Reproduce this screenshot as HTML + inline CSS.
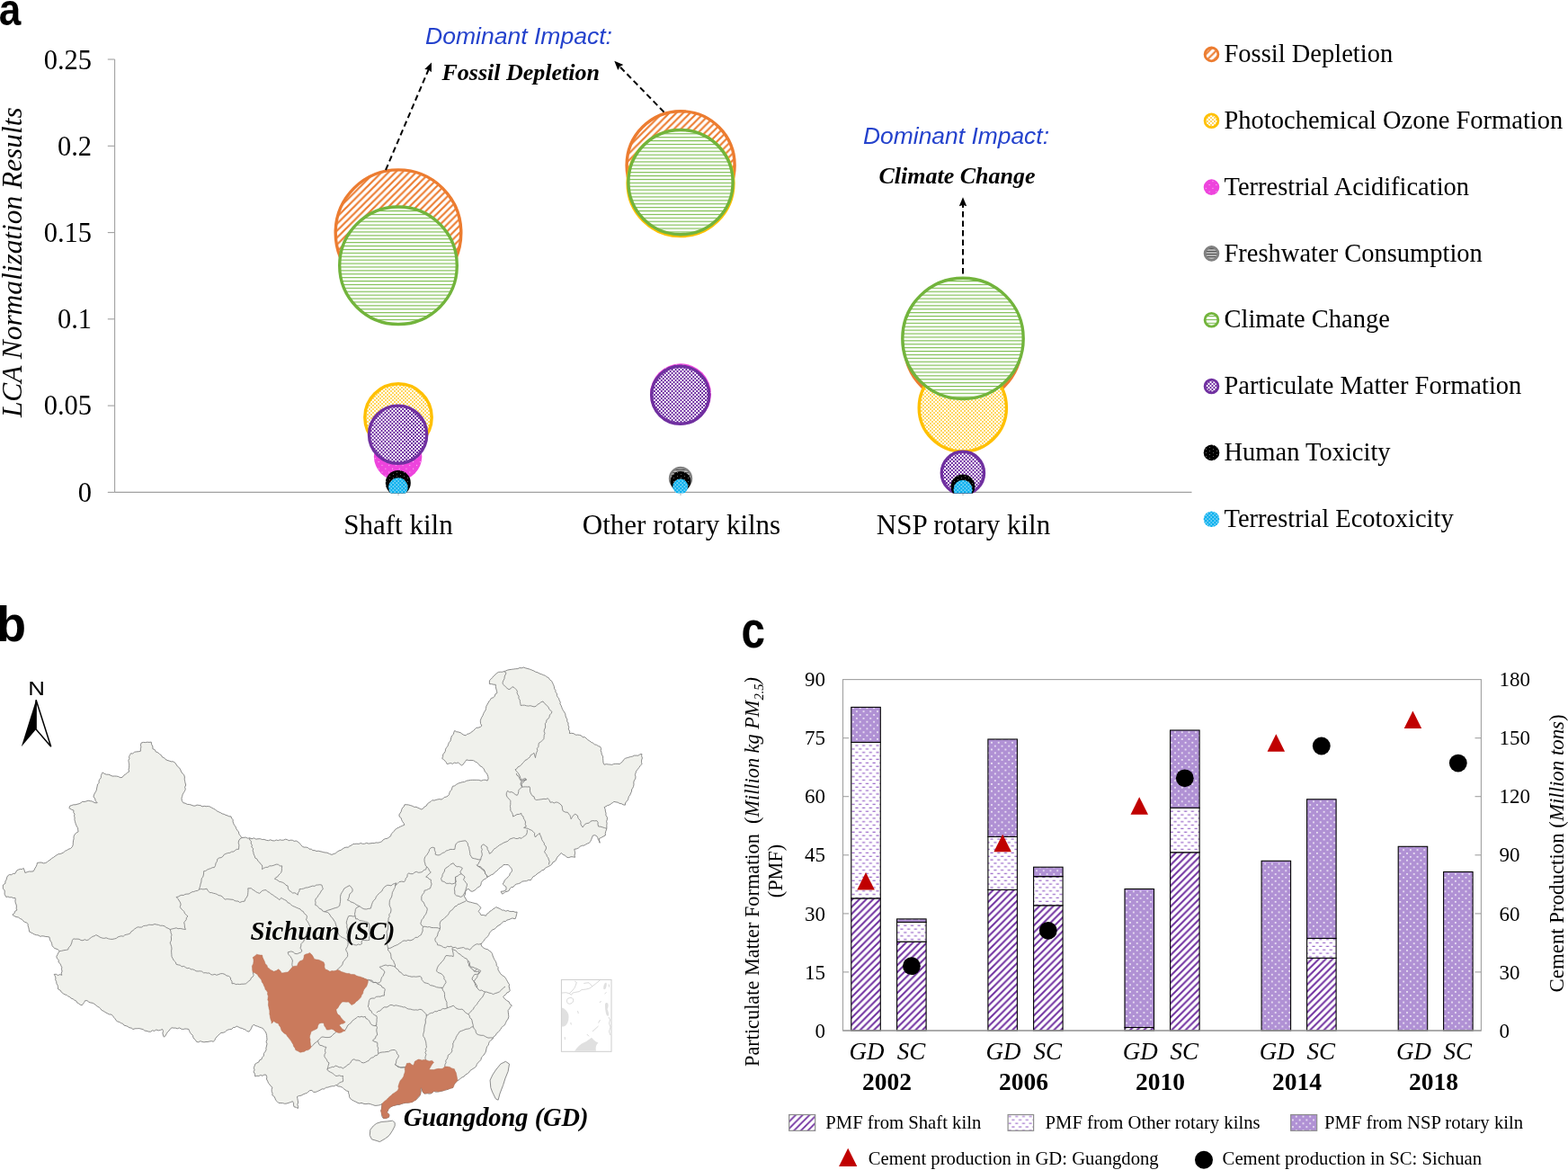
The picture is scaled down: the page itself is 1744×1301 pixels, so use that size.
<!DOCTYPE html>
<html><head><meta charset="utf-8"><title>Figure</title>
<style>html,body{margin:0;padding:0;background:#fff;} svg{display:block;}</style>
</head><body>
<svg width="1744" height="1301" viewBox="0 0 1744 1301">
<defs>
<clipPath id="clipA"><rect x="0" y="0" width="1744" height="548.5"/></clipPath>
<pattern id="pFD" patternUnits="userSpaceOnUse" width="7.7" height="7.7">
  <rect width="7.7" height="7.7" fill="#fff"/>
  <path d="M-1.925,1.925 L1.925,-1.925 M0,7.7 L7.7,0 M5.775,9.625 L9.625,5.775" stroke="#EC7C30" stroke-width="2.2"/>
</pattern>
<pattern id="pCC" patternUnits="userSpaceOnUse" width="8" height="3.9">
  <rect width="8" height="3.9" fill="#fff"/>
  <rect y="0" width="8" height="1.15" fill="#7CBD4E"/>
</pattern>
<pattern id="pPO" patternUnits="userSpaceOnUse" width="4" height="4">
  <rect width="4" height="4" fill="#fff"/>
  <rect x="0.2" y="0.2" width="1.6" height="1.6" fill="#FFC20E"/>
  <rect x="2.2" y="2.2" width="1.6" height="1.6" fill="#FFC20E"/>
</pattern>
<pattern id="pPM" patternUnits="userSpaceOnUse" width="3.94" height="4">
  <rect width="3.94" height="4" fill="#fff"/>
  <rect x="0" y="0" width="1.97" height="2" fill="#6E2CA0"/>
  <rect x="1.97" y="2" width="1.97" height="2" fill="#6E2CA0"/>
</pattern>
<pattern id="pTA" patternUnits="userSpaceOnUse" width="7.7" height="7.7">
  <rect width="7.7" height="7.7" fill="#EE44DD"/>
  <rect x="1" y="1" width="1" height="1" fill="#fbd0f6"/>
  <rect x="4.85" y="4.85" width="1" height="1" fill="#fbd0f6"/>
</pattern>
<pattern id="pHT" patternUnits="userSpaceOnUse" width="8" height="4">
  <rect width="8" height="4" fill="#000"/>
  <rect x="1" y="1" width="1" height="1" fill="#666"/>
  <rect x="5" y="3" width="1" height="1" fill="#666"/>
</pattern>
<pattern id="pTE" patternUnits="userSpaceOnUse" width="4" height="4">
  <rect width="4" height="4" fill="#0AB0EE"/>
  <rect x="0.4" y="0.6" width="1.9" height="0.9" fill="#e6f7fe"/>
  <rect x="2.4" y="2.6" width="1.9" height="0.9" fill="#e6f7fe"/>
</pattern>
<pattern id="pFW" patternUnits="userSpaceOnUse" width="4" height="3">
  <rect width="4" height="3" fill="#bbb"/>
  <rect y="0" width="4" height="1.2" fill="#555"/>
</pattern>

<pattern id="pSK" patternUnits="userSpaceOnUse" width="7.7" height="7.7">
  <rect width="7.7" height="7.7" fill="#fff"/>
  <path d="M-1.925,1.925 L1.925,-1.925 M0,7.7 L7.7,0 M5.775,9.625 L9.625,5.775" stroke="#7030A0" stroke-width="2"/>
</pattern>
<pattern id="pSKl" patternUnits="userSpaceOnUse" width="7.7" height="7.7" x="877.7" y="1239.5">
  <rect width="7.7" height="7.7" fill="#fff"/>
  <path d="M-1.925,1.925 L1.925,-1.925 M0,7.7 L7.7,0 M5.775,9.625 L9.625,5.775" stroke="#7030A0" stroke-width="1.8"/>
</pattern>
<pattern id="pOR" patternUnits="userSpaceOnUse" width="7.7" height="7.7">
  <rect width="7.7" height="7.7" fill="#fff"/>
  <rect x="0.4" y="0.7" width="3.1" height="1.1" fill="#8A50C0"/>
  <rect x="4.25" y="4.55" width="3.1" height="1.1" fill="#8A50C0"/>
</pattern>
<pattern id="pORl" patternUnits="userSpaceOnUse" width="7.7" height="7.7" x="1121.1" y="1239.5">
  <rect width="7.7" height="7.7" fill="#fff"/>
  <rect x="0.4" y="1.5" width="3.1" height="1" fill="#8A50C0"/>
  <rect x="4.25" y="5.35" width="3.1" height="1" fill="#8A50C0"/>
</pattern>
<pattern id="pNSP" patternUnits="userSpaceOnUse" width="7.7" height="7.7">
  <rect width="7.7" height="7.7" fill="#A886CC"/>
  <rect x="0" y="0" width="7.7" height="7.7" fill="#B697D8" opacity="0.6"/>
  <rect x="1" y="1.1" width="1.8" height="1.5" fill="#fff" opacity="0.9"/>
  <rect x="4.85" y="4.95" width="1.8" height="1.5" fill="#fff" opacity="0.9"/>
</pattern>
</defs>
<rect width="1744" height="1301" fill="#fff"/>
<g stroke="#A0A0A0" stroke-width="1.1" fill="none">
<line x1="127.6" y1="66" x2="127.6" y2="547.4"/>
<line x1="127.6" y1="547.4" x2="1325.5" y2="547.4"/>
<line x1="119.8" y1="66.0" x2="127.6" y2="66.0"/>
<line x1="119.8" y1="162.3" x2="127.6" y2="162.3"/>
<line x1="119.8" y1="258.6" x2="127.6" y2="258.6"/>
<line x1="119.8" y1="354.8" x2="127.6" y2="354.8"/>
<line x1="119.8" y1="451.1" x2="127.6" y2="451.1"/>
<line x1="119.8" y1="547.4" x2="127.6" y2="547.4"/>
<line x1="443" y1="547" x2="443" y2="551" stroke-width="0.8"/>
<line x1="757" y1="547" x2="757" y2="551" stroke-width="0.8"/>
<line x1="1071" y1="547" x2="1071" y2="551" stroke-width="0.8"/>
</g>
<g font-family="Liberation Serif, serif" font-size="30.5" text-anchor="end" fill="#000">
<text x="102" y="76.5">0.25</text>
<text x="102" y="172.7">0.2</text>
<text x="102" y="268.9">0.15</text>
<text x="102" y="365.1">0.1</text>
<text x="102" y="461.3">0.05</text>
<text x="102" y="557.5">0</text>
</g>
<text transform="translate(23.5,291.7) rotate(-90)" text-anchor="middle" font-family="Liberation Serif, serif" font-style="italic" font-size="31.4">LCA Normalization Results</text>
<g font-family="Liberation Serif, serif" font-size="31" text-anchor="middle">
<text x="443" y="593.5">Shaft kiln</text>
<text x="758" y="593.5">Other rotary kilns</text>
<text x="1071.5" y="593.5">NSP rotary kiln</text>
</g>
<g clip-path="url(#clipA)">
<circle cx="443" cy="258.7" r="69.80" fill="url(#pFD)" stroke="#EC7C30" stroke-width="3.4"/>
<circle cx="443" cy="464" r="37.20" fill="url(#pPO)" stroke="#FFC000" stroke-width="3.4"/>
<circle cx="442.6" cy="507.5" r="26.7" fill="url(#pTA)"/>
<circle cx="442.8" cy="535" r="9.8" fill="url(#pFW)" stroke="#808080" stroke-width="2.4"/>
<circle cx="443" cy="295.3" r="65.30" fill="url(#pCC)" stroke="#72B43C" stroke-width="3.4"/>
<circle cx="442.6" cy="483.2" r="32.10" fill="url(#pPM)" stroke="#7030A0" stroke-width="3.4"/>
<circle cx="442.8" cy="537" r="14" fill="url(#pHT)"/>
<circle cx="442.85" cy="542" r="10.75" fill="url(#pTE)"/>
<circle cx="757.1" cy="183.7" r="60.00" fill="url(#pFD)" stroke="#EC7C30" stroke-width="3.4"/>
<circle cx="757" cy="203.7" r="58.90" fill="url(#pPO)" stroke="#FFC000" stroke-width="3.4"/>
<circle cx="757" cy="438.3" r="34" fill="url(#pTA)"/>
<circle cx="757" cy="532" r="12.0" fill="url(#pFW)" stroke="#808080" stroke-width="2.4"/>
<circle cx="757" cy="202.6" r="58.10" fill="url(#pCC)" stroke="#72B43C" stroke-width="3.4"/>
<circle cx="756.7" cy="439.3" r="32.00" fill="url(#pPM)" stroke="#7030A0" stroke-width="3.4"/>
<circle cx="757" cy="535.3" r="11.3" fill="url(#pHT)"/>
<circle cx="756.7" cy="540.9" r="8.5" fill="url(#pTE)"/>
<circle cx="1071" cy="384" r="64.80" fill="url(#pFD)" stroke="#EC7C30" stroke-width="3.4"/>
<circle cx="1070.8" cy="453.4" r="48.60" fill="url(#pPO)" stroke="#FFC000" stroke-width="3.4"/>
<circle cx="1071" cy="523" r="22" fill="url(#pTA)"/>
<circle cx="1071" cy="538" r="8.8" fill="url(#pFW)" stroke="#808080" stroke-width="2.4"/>
<circle cx="1071" cy="376.4" r="67.20" fill="url(#pCC)" stroke="#72B43C" stroke-width="3.4"/>
<circle cx="1070.9" cy="525.9" r="23.60" fill="url(#pPM)" stroke="#7030A0" stroke-width="3.4"/>
<circle cx="1070.9" cy="541.1" r="13.5" fill="url(#pHT)"/>
<circle cx="1071" cy="544.2" r="10.4" fill="url(#pTE)"/>
</g>
<line x1="429" y1="189" x2="476.8" y2="77.0" stroke="#000" stroke-width="2" stroke-dasharray="6.5,4"/><polygon points="480.0,69.5 479.9,80.3 476.6,77.5 472.2,77.0" fill="#000"/>
<line x1="738.5" y1="124.6" x2="689.0" y2="73.7" stroke="#000" stroke-width="2" stroke-dasharray="6.5,4"/><polygon points="683.3,67.8 693.3,72.0 689.4,74.0 687.3,77.9" fill="#000"/>
<line x1="1071" y1="304.5" x2="1071.0" y2="227.4" stroke="#000" stroke-width="2" stroke-dasharray="6.5,4"/><polygon points="1071.0,219.2 1075.2,229.2 1071.0,227.9 1066.8,229.2" fill="#000"/>
<g font-family="Liberation Sans, sans-serif" font-style="italic" font-size="25" fill="#2442CC">
<text x="473" y="49" textLength="208" lengthAdjust="spacingAndGlyphs">Dominant Impact:</text>
<text x="960" y="160.3" textLength="207" lengthAdjust="spacingAndGlyphs">Dominant Impact:</text>
</g>
<g font-family="Liberation Serif, serif" font-style="italic" font-weight="bold" font-size="26">
<text x="491.5" y="88.7">Fossil Depletion</text>
<text x="977.5" y="203.8">Climate Change</text>
</g>
<g font-family="Liberation Serif, serif" font-size="28.5">
<circle cx="1347.5" cy="60.4" r="7.4" fill="url(#pFD)" stroke="#EC7C30" stroke-width="2.8"/>
<text x="1361.5" y="69.0">Fossil Depletion</text>
<circle cx="1347.5" cy="134.2" r="7.4" fill="url(#pPO)" stroke="#FFC000" stroke-width="2.8"/>
<text x="1361.5" y="142.8">Photochemical Ozone Formation</text>
<circle cx="1347.5" cy="208.1" r="8.8" fill="url(#pTA)"/>
<text x="1361.5" y="216.7">Terrestrial Acidification</text>
<circle cx="1347.5" cy="281.9" r="7.4" fill="url(#pFW)" stroke="#808080" stroke-width="2.8"/>
<text x="1361.5" y="290.5">Freshwater Consumption</text>
<circle cx="1347.5" cy="355.7" r="7.4" fill="url(#pCC)" stroke="#72B43C" stroke-width="2.8"/>
<text x="1361.5" y="364.3">Climate Change</text>
<circle cx="1347.5" cy="429.5" r="7.4" fill="url(#pPM)" stroke="#7030A0" stroke-width="2.8"/>
<text x="1361.5" y="438.1">Particulate Matter Formation</text>
<circle cx="1347.5" cy="503.4" r="8.8" fill="url(#pHT)"/>
<text x="1361.5" y="512.0">Human Toxicity</text>
<circle cx="1347.5" cy="577.2" r="8.8" fill="url(#pTE)"/>
<text x="1361.5" y="585.8">Terrestrial Ecotoxicity</text>
</g>
<text transform="translate(-1.3,27.9) scale(0.87,1)" font-family="Liberation Sans, sans-serif" font-weight="bold" font-size="50.7">a</text>
<g stroke="#858585" stroke-width="0.95" stroke-linejoin="round">
<polygon points="157.3,825.9 159.5,825.4 161.7,825.6 163.8,825.2 166.0,825.4 168.2,825.1 168.6,827.7 169.9,830.0 169.9,832.7 172.2,833.6 173.4,836.0 175.8,836.9 177.5,838.6 179.4,839.7 180.5,841.9 182.6,842.6 184.0,844.4 186.0,845.4 188.1,846.0 190.2,846.8 192.5,846.8 194.5,847.9 196.0,850.0 197.4,852.2 199.5,853.8 200.7,855.9 201.6,858.0 202.8,860.0 204.7,861.7 205.4,864.0 205.2,866.3 205.6,868.5 206.1,870.7 206.7,873.0 205.6,875.3 206.3,877.5 205.5,879.5 204.3,881.4 203.2,883.4 202.6,885.5 202.0,887.6 202.3,890.3 203.8,892.7 206.1,893.2 208.3,894.4 210.7,894.5 213.0,895.2 215.0,896.0 217.0,896.1 219.1,895.1 221.2,895.4 223.2,895.7 225.1,896.9 227.2,896.3 229.2,896.7 231.3,896.5 233.3,896.9 235.3,898.1 237.5,899.2 239.5,900.3 241.4,901.8 243.5,902.9 245.4,903.7 247.2,904.9 249.2,905.3 251.0,906.3 253.0,906.9 254.8,907.8 257.0,907.9 257.6,909.9 259.1,911.5 259.1,913.8 259.8,915.8 260.7,917.6 262.0,919.3 262.7,921.3 263.8,923.1 265.4,925.0 266.0,927.6 267.5,929.5 268.9,931.6 271.1,931.3 273.4,931.1 275.6,932.2 277.8,931.8 280.0,932.8 282.5,931.8 284.6,933.1 287.0,932.8 289.4,932.7 291.6,933.5 293.9,933.4 296.2,934.3 298.4,934.7 300.9,933.8 303.1,934.8 305.4,934.9 307.3,934.0 309.4,934.6 311.4,933.8 313.5,934.3 315.5,934.1 317.4,933.2 319.4,933.6 321.2,934.7 323.4,934.2 325.4,934.3 327.2,935.4 329.4,935.0 331.2,936.1 333.2,937.5 334.7,939.5 336.3,941.3 338.2,942.1 340.4,942.1 342.4,942.5 344.0,944.2 346.2,944.1 347.9,945.6 350.1,945.6 352.0,946.5 354.1,946.2 356.0,946.7 358.0,947.1 359.9,947.7 361.9,948.0 363.9,948.2 366.4,949.4 369.0,950.4 371.1,949.5 373.3,948.8 375.1,947.2 377.0,946.0 379.2,945.3 381.1,943.9 382.9,942.8 384.9,942.1 387.2,942.2 388.9,940.8 390.9,940.0 392.6,938.6 394.8,938.4 396.9,938.2 399.1,938.4 401.2,937.5 403.4,938.3 405.6,938.2 407.7,937.3 409.9,938.1 412.0,937.8 414.1,937.5 416.2,937.6 418.2,936.9 420.4,937.1 422.4,936.6 424.6,935.8 426.2,933.8 428.3,932.7 430.8,932.3 432.7,931.0 434.6,929.7 435.2,927.3 436.8,925.8 438.3,924.2 439.6,922.4 441.5,921.1 443.6,920.1 445.7,919.0 447.8,918.1 449.9,917.2 449.0,915.3 447.7,913.6 446.7,911.7 446.2,909.6 444.3,908.2 443.9,906.0 445.0,904.2 446.2,902.4 446.7,900.3 447.6,898.3 449.3,896.9 449.9,894.8 452.2,894.7 454.6,895.0 456.8,895.7 458.8,896.3 460.7,897.4 463.0,897.3 464.9,898.3 466.9,899.1 468.8,900.0 470.8,898.9 472.2,897.0 474.3,896.0 475.4,893.8 477.2,892.5 479.2,891.3 480.8,889.7 482.9,890.1 484.9,889.4 486.9,888.9 488.9,888.6 491.0,889.0 492.7,888.0 494.2,886.5 496.3,886.1 498.1,885.1 499.5,883.6 499.9,881.6 500.8,879.8 502.2,878.2 502.8,876.2 503.4,874.3 505.7,873.8 507.6,872.3 509.7,871.1 511.9,870.4 514.2,869.7 516.6,869.5 518.8,868.2 521.1,867.8 523.5,867.4 525.8,867.3 528.1,867.3 530.5,867.3 532.8,867.4 535.1,868.2 537.5,867.3 539.8,867.2 542.1,868.1 543.1,865.9 542.8,863.5 542.1,861.4 541.1,859.5 539.3,858.1 538.7,856.0 537.6,854.2 535.9,852.7 533.8,851.6 532.4,849.6 530.6,848.1 528.6,846.9 526.6,845.7 524.0,845.4 521.4,845.5 518.8,844.9 517.6,846.6 516.4,848.3 515.2,849.9 513.4,851.1 511.5,849.5 509.5,848.0 507.5,848.6 505.3,848.1 503.4,849.4 501.2,848.5 499.2,849.1 497.2,849.6 496.3,847.7 494.9,846.1 493.5,844.6 491.7,843.4 492.6,841.4 492.7,839.0 494.1,837.2 495.3,835.4 495.5,833.2 496.5,831.4 497.9,829.7 498.6,827.7 499.3,825.7 500.9,824.1 501.4,822.0 501.9,819.9 502.7,818.0 504.4,816.4 504.8,814.3 505.7,812.4 507.6,813.7 509.9,814.0 512.1,814.7 513.9,816.0 515.9,817.3 518.1,817.8 519.5,816.3 521.7,815.8 523.4,814.8 525.0,813.6 526.7,812.4 528.1,810.9 529.7,809.3 532.1,809.1 534.2,808.4 535.9,807.0 534.5,804.5 534.3,801.6 534.9,799.5 535.8,797.5 537.0,795.6 537.7,793.6 538.7,791.6 540.0,789.8 540.5,787.6 540.8,785.4 541.8,783.6 542.9,781.8 543.8,780.0 545.2,778.4 546.3,776.4 548.8,775.7 550.2,774.1 550.9,771.8 552.9,770.6 552.5,768.3 551.8,766.0 551.4,763.7 551.3,761.3 549.0,761.2 546.7,760.6 544.4,760.5 544.4,756.7 546.1,755.2 547.6,753.5 549.1,751.7 550.9,750.3 552.4,748.6 554.4,747.4 556.5,747.2 558.6,747.2 560.6,746.6 562.7,745.9 564.8,745.0 567.0,744.6 569.3,744.3 571.5,744.0 573.7,743.7 575.9,743.6 577.9,742.6 580.2,742.8 582.3,742.0 584.6,742.9 587.0,743.5 589.3,744.2 591.6,745.1 593.8,746.0 595.8,747.2 598.1,747.8 600.1,749.0 602.4,749.7 604.4,750.6 606.5,751.3 608.2,752.7 610.2,753.6 611.5,755.8 613.7,757.4 614.8,759.8 615.7,761.7 616.4,763.6 616.6,765.8 617.9,767.5 618.0,769.6 619.4,771.2 619.4,773.4 620.3,775.2 621.7,776.8 622.1,778.8 623.2,780.5 623.0,782.8 624.1,784.5 624.8,786.5 625.5,788.5 626.6,790.3 627.7,792.0 628.8,793.8 629.0,795.9 629.7,798.0 630.9,799.9 630.7,802.1 632.1,804.0 631.9,806.2 632.8,808.4 632.3,810.9 633.7,813.1 633.4,815.5 635.8,815.3 638.1,815.7 640.3,817.2 642.7,817.1 644.7,817.4 646.7,818.0 648.1,819.8 650.3,819.6 652.0,820.9 653.6,822.6 655.7,823.8 657.5,825.3 659.7,826.3 661.4,827.8 663.6,828.3 665.4,829.6 667.5,830.2 668.6,832.3 668.2,834.7 669.0,836.8 669.3,839.1 670.6,841.1 670.6,843.4 670.8,845.8 671.0,848.1 672.1,850.3 674.2,849.6 676.3,849.9 678.5,850.1 680.6,850.4 682.7,849.5 684.8,849.3 687.0,849.3 689.1,849.6 690.8,848.2 692.5,846.8 693.6,844.8 695.3,843.4 697.3,842.7 699.4,842.1 701.4,841.5 703.5,841.1 705.5,840.1 707.7,840.1 709.9,840.2 711.8,838.8 713.9,838.4 713.6,840.6 714.4,842.9 713.6,845.1 713.5,847.4 713.9,849.6 712.2,851.4 710.8,853.4 709.3,855.4 707.7,857.3 707.1,859.4 706.4,861.5 707.0,863.8 706.7,865.9 705.4,867.9 704.8,869.9 705.0,872.2 704.6,874.3 703.8,876.2 702.6,878.0 702.5,880.2 701.5,882.0 700.8,884.0 699.4,885.7 698.9,887.7 698.2,889.7 696.7,891.3 695.6,893.0 695.3,895.2 693.1,894.8 691.3,893.7 689.1,893.4 687.2,892.2 685.0,891.9 682.9,891.4 681.3,892.7 679.5,893.8 677.8,895.1 675.7,895.6 674.0,896.7 672.1,897.6 673.1,899.7 673.4,902.1 674.0,904.3 673.9,906.7 675.3,908.7 675.4,911.1 674.6,913.3 675.1,915.5 674.8,917.7 674.9,919.9 674.7,922.1 673.8,924.3 673.3,926.6 673.3,929.0 671.0,930.1 668.7,931.4 666.4,932.5 666.4,934.9 667.1,937.3 666.7,935.2 665.3,933.6 664.8,931.5 663.7,929.7 661.7,928.7 659.5,929.0 658.5,931.1 657.8,933.3 656.8,935.4 655.4,937.3 653.4,938.0 651.6,938.9 649.8,940.1 647.4,940.3 645.2,941.3 643.3,943.0 641.2,943.9 638.8,944.3 639.3,946.5 639.6,948.8 639.0,951.1 639.5,953.3 637.2,952.8 635.0,952.7 632.8,953.6 630.5,953.3 628.7,951.3 626.1,950.2 624.2,948.4 622.7,950.3 620.8,951.9 619.4,953.9 618.5,956.0 617.1,957.8 614.9,958.9 613.9,960.9 612.2,962.3 610.3,963.4 608.3,964.3 606.4,965.3 605.0,967.2 602.8,967.8 601.0,969.4 599.0,970.6 597.0,972.0 595.3,973.7 593.1,974.7 591.6,976.7 590.3,978.8 587.8,978.5 585.5,979.7 583.1,979.8 580.7,980.2 578.9,981.7 576.7,982.6 574.4,983.1 572.4,984.4 571.1,986.2 568.7,986.7 567.1,988.1 566.1,990.4 564.1,991.3 562.0,991.7 560.4,993.3 558.5,994.1 557.1,991.3 560.0,991.0 562.7,989.9 563.1,987.8 562.7,985.8 560.8,984.6 559.2,983.0 560.5,981.0 561.3,978.8 563.5,976.9 565.4,974.7 566.8,973.2 567.2,971.1 568.9,969.7 569.6,967.8 568.7,965.4 567.0,963.5 565.4,961.6 562.6,961.5 559.9,961.6 558.4,963.6 556.2,964.8 554.4,966.4 552.7,968.4 550.5,969.8 548.8,971.9 546.4,972.8 544.2,974.2 541.9,975.4 540.3,977.1 538.1,978.0 536.4,979.5 535.3,981.5 534.9,983.9 533.6,985.8 531.4,986.7 529.8,988.4 528.1,989.9 525.3,991.3 523.2,990.8 521.9,988.9 519.8,988.5 517.7,991.3 517.5,994.2 516.3,996.8 517.9,999.1 519.1,1001.7 521.1,1002.7 523.2,1003.2 525.3,1003.7 528.1,1004.5 530.9,1005.1 532.8,1007.3 535.0,1009.3 533.6,1011.4 532.2,1013.4 533.8,1015.4 535.0,1017.6 537.8,1017.5 540.5,1018.3 541.4,1016.3 543.5,1015.2 544.7,1013.4 546.6,1012.5 548.2,1011.0 550.1,1010.1 551.6,1008.6 554.0,1009.6 556.3,1010.6 558.5,1012.0 560.6,1012.2 562.6,1013.2 564.8,1012.4 566.8,1013.4 568.9,1013.6 571.0,1013.4 573.0,1014.3 575.1,1014.1 574.6,1016.7 574.0,1019.2 573.1,1021.7 569.6,1021.0 567.8,1021.9 565.9,1022.6 563.9,1023.1 562.3,1024.5 560.2,1024.6 558.5,1025.9 557.0,1027.7 555.0,1028.9 553.0,1030.0 551.6,1031.8 549.9,1033.2 547.6,1033.9 546.1,1035.6 544.5,1037.2 543.7,1039.5 542.3,1041.4 540.7,1043.0 538.9,1044.6 537.8,1046.6 536.0,1048.5 535.0,1050.8 536.4,1052.9 538.2,1054.3 540.2,1055.2 542.5,1055.8 544.2,1057.2 546.1,1058.4 547.5,1060.5 548.1,1062.9 549.1,1065.2 550.2,1067.4 551.4,1069.3 552.2,1071.5 552.3,1073.8 554.1,1075.6 553.9,1078.1 555.1,1080.0 555.4,1080.7 556.8,1082.8 558.5,1084.6 560.8,1085.8 562.4,1087.7 563.4,1089.5 564.4,1091.2 565.3,1093.0 566.5,1094.6 566.1,1097.0 566.7,1099.2 567.2,1101.5 565.9,1103.1 563.8,1103.9 562.7,1105.7 561.0,1106.9 559.6,1108.4 561.4,1110.7 563.7,1112.6 566.1,1113.9 567.2,1116.5 569.3,1118.1 567.7,1119.8 566.5,1121.8 565.1,1123.6 565.3,1125.9 565.6,1128.2 565.8,1130.5 565.1,1133.0 563.5,1135.1 562.4,1137.5 561.5,1139.6 559.6,1140.9 558.0,1142.5 556.8,1144.4 555.5,1146.2 554.0,1147.8 552.2,1149.2 551.3,1151.3 549.1,1152.7 548.0,1155.3 545.8,1156.8 544.4,1158.3 543.6,1160.2 543.2,1162.3 541.6,1163.7 541.1,1165.8 540.6,1168.0 540.1,1170.1 538.8,1172.0 537.4,1174.0 535.5,1175.8 534.9,1178.4 533.3,1180.3 531.5,1181.7 530.3,1183.6 529.6,1185.9 527.8,1187.3 524.9,1189.2 523.1,1190.3 521.9,1192.0 520.5,1193.6 517.9,1194.9 516.0,1197.1 514.1,1197.9 512.3,1199.0 510.9,1200.6 509.0,1201.5 506.9,1203.2 505.4,1205.5 504.0,1207.3 503.7,1209.5 500.9,1209.9 498.4,1211.2 496.4,1211.9 494.2,1212.1 492.2,1213.0 490.0,1213.5 487.8,1213.9 485.1,1214.2 482.5,1213.5 479.8,1215.7 477.6,1216.3 475.4,1215.7 471.9,1216.1 470.1,1213.9 469.2,1210.4 467.9,1209.5 468.3,1212.2 468.0,1214.8 467.4,1217.4 466.3,1219.5 464.5,1220.9 463.0,1222.7 460.7,1223.8 458.6,1225.4 456.2,1225.6 453.9,1226.1 451.5,1226.3 448.8,1226.7 446.2,1227.6 444.2,1228.3 442.1,1228.5 440.0,1228.9 437.2,1229.5 434.7,1230.7 432.1,1233.3 431.3,1235.2 430.3,1236.9 433.0,1239.5 432.5,1242.2 429.4,1243.5 426.3,1243.5 425.0,1241.7 424.6,1239.5 424.7,1237.2 423.7,1235.1 424.5,1233.0 424.6,1230.7 425.0,1227.2 423.3,1228.5 421.3,1229.0 419.2,1229.3 417.1,1229.4 414.7,1228.6 412.4,1227.8 410.0,1227.2 408.0,1227.5 406.0,1227.6 404.0,1227.2 402.0,1226.3 400.0,1227.0 398.0,1226.4 395.8,1225.2 393.5,1224.2 391.3,1222.9 389.4,1221.3 388.5,1219.5 388.4,1217.4 387.6,1215.6 387.6,1213.5 385.5,1213.0 383.9,1211.8 382.2,1210.6 380.7,1209.1 378.4,1208.2 375.9,1207.9 373.8,1206.5 371.7,1207.7 369.2,1207.8 366.9,1208.3 364.8,1209.1 362.5,1209.3 360.6,1210.9 358.2,1210.9 356.0,1212.2 353.7,1213.3 351.3,1214.3 348.8,1214.4 346.9,1212.5 344.4,1212.6 342.9,1214.1 341.3,1215.4 339.2,1216.1 337.0,1217.0 335.0,1218.2 332.6,1218.5 330.5,1219.5 330.9,1221.7 331.3,1223.8 331.6,1226.0 330.8,1228.2 331.6,1230.3 331.4,1232.5 329.4,1231.3 327.1,1230.8 326.5,1228.8 326.6,1226.6 325.4,1224.7 323.3,1225.6 321.2,1226.3 319.0,1227.0 316.7,1227.3 314.5,1226.6 312.1,1226.5 309.8,1226.4 308.3,1224.8 306.6,1223.3 305.9,1221.1 304.8,1219.1 302.9,1217.8 303.0,1215.6 302.2,1213.4 302.2,1211.3 302.9,1209.1 301.1,1207.7 299.9,1205.9 298.5,1204.3 297.7,1202.2 296.5,1200.0 296.8,1197.5 296.0,1195.3 293.9,1195.0 292.0,1196.3 289.8,1195.5 287.9,1196.5 285.8,1196.3 283.8,1197.0 283.5,1194.2 282.1,1191.8 283.1,1189.8 282.3,1187.4 283.1,1185.3 283.8,1183.2 285.6,1182.0 287.7,1181.1 288.7,1178.8 290.8,1178.0 291.6,1175.8 293.3,1174.1 293.4,1171.5 294.8,1169.6 296.0,1167.6 295.9,1165.3 296.5,1163.0 297.0,1160.7 296.1,1158.4 297.0,1156.1 296.8,1153.8 296.6,1151.4 296.1,1149.1 295.1,1146.9 293.7,1145.5 292.6,1143.7 290.7,1142.8 288.5,1142.1 286.4,1141.2 284.1,1140.5 282.1,1139.3 280.5,1141.0 279.6,1143.2 278.5,1145.3 277.0,1147.1 274.8,1146.7 273.2,1145.1 271.1,1144.4 269.2,1143.4 267.1,1143.0 265.2,1142.0 263.2,1141.1 261.5,1142.4 259.3,1142.6 257.8,1144.3 255.7,1144.6 253.6,1145.1 251.8,1146.0 250.2,1147.6 248.2,1148.3 246.0,1148.4 244.3,1149.7 242.8,1151.3 241.1,1152.8 239.8,1154.5 238.8,1156.6 237.4,1158.3 235.3,1157.7 233.2,1158.0 231.1,1158.5 229.0,1158.5 226.9,1158.9 224.8,1158.4 222.7,1157.7 220.6,1158.9 218.5,1158.3 217.5,1156.5 215.9,1155.1 214.8,1153.4 214.4,1151.3 212.8,1149.9 211.5,1148.3 210.6,1146.5 209.9,1144.5 207.8,1144.1 205.7,1144.0 203.5,1144.6 201.5,1144.1 199.5,1142.9 197.3,1143.8 195.2,1143.1 193.1,1143.1 191.0,1142.8 189.2,1144.3 188.0,1146.1 186.3,1147.7 185.2,1149.6 184.1,1151.7 182.3,1153.1 181.4,1151.0 180.9,1148.9 181.5,1146.6 180.6,1144.5 178.5,1145.4 176.3,1145.9 173.8,1145.0 171.8,1146.4 169.4,1145.8 167.4,1147.3 165.1,1147.1 163.0,1146.4 160.9,1146.1 159.1,1144.6 156.9,1144.1 154.8,1143.6 152.5,1143.7 150.2,1143.8 147.9,1144.5 146.2,1143.1 144.0,1142.8 142.2,1141.5 140.2,1140.7 138.1,1140.2 136.6,1138.3 134.6,1137.7 132.8,1136.5 130.7,1135.9 129.0,1134.6 128.0,1132.8 126.6,1131.3 125.5,1129.5 123.9,1128.2 121.4,1127.9 119.2,1126.7 117.0,1125.6 115.3,1124.3 113.2,1123.5 111.9,1121.7 110.3,1120.2 108.3,1119.2 106.8,1117.7 105.0,1116.5 103.2,1115.3 100.9,1115.0 98.8,1114.2 97.0,1112.7 94.6,1112.7 93.7,1114.5 92.4,1116.2 91.2,1117.8 89.2,1117.2 87.5,1115.9 85.8,1114.9 84.6,1112.9 82.7,1112.0 81.1,1110.8 79.1,1110.1 77.7,1108.5 75.7,1107.9 74.3,1106.5 72.2,1105.9 70.5,1104.9 68.4,1103.3 66.9,1101.0 64.5,1099.8 64.5,1097.6 64.0,1095.5 62.9,1093.7 62.7,1091.5 61.7,1089.6 61.9,1087.3 61.3,1085.3 60.2,1083.4 62.4,1083.3 64.4,1084.5 66.7,1083.6 68.8,1084.3 68.2,1082.2 69.1,1080.0 68.5,1077.8 68.8,1075.7 67.8,1073.7 67.0,1071.6 65.2,1070.0 65.1,1067.5 63.5,1065.8 62.8,1063.7 63.9,1061.6 64.9,1059.5 66.2,1057.6 64.7,1056.2 63.0,1055.2 60.9,1054.6 59.4,1053.3 58.1,1051.6 57.7,1049.7 57.1,1047.7 55.9,1046.0 55.3,1044.1 55.0,1042.1 53.0,1041.6 50.9,1041.5 48.9,1041.0 46.8,1040.8 44.7,1041.3 42.9,1040.0 40.6,1039.7 38.5,1039.1 36.6,1038.1 34.7,1037.0 32.7,1036.1 32.3,1033.9 31.9,1031.8 31.2,1029.7 31.0,1027.5 29.6,1025.9 27.4,1025.3 25.8,1023.9 24.4,1022.3 22.4,1021.5 20.4,1020.0 18.0,1019.6 15.8,1018.6 13.8,1017.2 15.8,1015.8 16.7,1013.3 18.9,1012.0 18.1,1010.1 18.4,1008.0 18.1,1006.0 17.3,1004.1 16.9,1002.1 17.2,1000.0 16.9,998.4 14.8,998.6 12.9,997.7 10.8,997.9 8.9,997.0 6.8,997.5 5.1,994.2 5.2,992.1 5.1,990.0 3.4,988.2 3.3,986.1 3.4,984.0 5.9,982.3 5.9,980.0 7.1,978.1 7.6,975.9 8.5,973.9 10.4,972.6 12.7,972.7 14.6,971.4 16.9,971.3 18.6,968.0 20.4,967.1 22.3,966.4 24.4,966.5 26.2,965.4 27.2,967.9 27.9,970.5 30.2,969.7 32.4,969.0 34.9,969.1 37.2,968.8 38.2,967.0 39.1,965.2 40.2,963.5 41.0,961.5 41.4,959.5 43.7,959.1 46.0,959.0 48.4,959.9 50.7,959.5 52.6,958.5 54.1,957.0 56.1,956.0 57.5,954.4 59.4,953.5 61.1,952.1 62.9,951.0 64.6,949.8 66.9,949.5 68.9,948.8 70.8,947.8 72.4,946.3 74.4,945.5 76.1,944.3 78.5,943.5 80.3,941.7 81.2,939.5 81.3,937.2 81.5,934.9 82.1,932.7 82.0,930.4 82.9,928.2 84.7,926.2 87.1,924.8 86.7,922.8 86.6,920.7 85.4,919.0 84.6,917.1 83.9,915.2 83.4,913.2 82.9,911.3 83.1,909.2 82.5,907.3 83.0,905.2 81.7,903.3 82.0,901.2 79.3,900.1 76.9,898.6 77.8,896.1 79.8,895.5 81.8,894.8 84.0,894.8 86.0,894.2 88.1,893.7 90.0,892.7 91.8,891.3 94.1,891.5 96.1,890.9 98.1,890.2 100.1,890.7 102.2,890.9 104.1,892.0 106.0,892.8 108.2,892.7 106.3,890.7 105.6,888.0 104.0,885.9 104.5,883.9 105.4,882.0 106.6,880.2 107.4,878.2 107.7,876.1 108.2,874.1 108.5,872.0 110.2,870.5 110.0,868.2 111.0,866.4 112.3,864.8 112.4,862.6 113.1,860.7 114.1,858.9 116.1,860.3 118.3,861.2 120.8,861.2 123.0,862.1 125.1,863.1 127.3,863.0 129.6,863.1 131.7,863.5 133.8,864.7 136.1,864.3 137.6,862.3 139.7,860.9 141.5,859.3 143.7,858.0 143.0,855.9 143.5,853.8 143.6,851.7 143.6,849.6 143.2,847.5 142.9,845.4 143.9,843.6 143.5,841.4 144.5,839.6 145.4,837.8 147.7,837.9 149.7,836.2 151.9,835.9 154.2,835.7 156.4,835.2 156.3,832.8 156.9,830.6 156.4,828.2" fill="#F0F1EC"/>
<polygon points="411.8,1256.3 415.3,1251.9 418.8,1249.2 424.1,1247.5 430.3,1247.0 436.5,1246.2 439.2,1248.4 439.2,1251.9 436.5,1257.2 433.0,1262.5 428.6,1266.0 422.4,1269.6 418.0,1268.2 413.5,1266.9 411.3,1262.5" fill="#F0F1EC"/>
<polygon points="562.4,1180.3 566.5,1183.1 565.1,1191.4 562.0,1199.0 559.6,1206.6 556.0,1216.0 554.1,1223.2 551.3,1221.8 547.5,1214.0 545.8,1209.4 545.1,1201.1 548.0,1195.0 551.3,1190.0 556.8,1183.1" fill="#F0F1EC"/>
</g>
<g stroke="#858585" stroke-width="0.9" fill="none" stroke-linejoin="round">
<polyline points="66.2,1057.6 68.6,1057.3 70.9,1056.7 73.3,1056.4 75.7,1055.9 76.3,1053.7 78.1,1052.1 79.1,1050.1 79.9,1048.0 80.3,1045.7 81.7,1043.9 83.8,1044.2 85.9,1044.1 88.0,1044.3 90.0,1045.5 92.0,1045.8 94.3,1044.7 96.3,1045.6 98.3,1045.0 99.8,1043.7 101.4,1042.5 103.1,1041.3 105.1,1040.8 106.7,1039.6 109.0,1040.7 111.1,1042.1 113.5,1043.0 115.8,1043.4 118.1,1042.8 120.4,1043.8 122.7,1044.3 125.0,1044.4 127.3,1043.9 129.3,1043.4 131.0,1042.0 132.9,1041.3 134.9,1040.8 137.2,1041.2 138.8,1039.7 140.8,1039.2 142.8,1038.7 144.9,1037.8 146.1,1035.7 148.0,1034.6 149.6,1033.1 151.4,1031.8 153.3,1030.8 155.5,1031.1 157.7,1031.0 159.5,1029.6 161.6,1029.3 163.7,1029.1 165.7,1028.2 167.9,1028.4 170.0,1028.4 172.0,1027.5 174.1,1028.1 176.3,1028.4 178.4,1029.3 180.6,1029.2 183.0,1029.8 184.9,1031.4 187.1,1032.3 189.2,1033.5"/>
<polyline points="189.2,1033.5 191.5,1032.9 193.8,1032.4 196.1,1031.8 198.1,1032.7 200.2,1032.4 202.3,1032.8 204.3,1033.3 206.4,1033.5 205.4,1031.0 205.3,1028.4 204.7,1025.8 205.9,1024.2 207.2,1022.6 207.4,1020.3 209.0,1018.9 207.3,1017.4 205.5,1015.8 204.7,1013.5 203.0,1011.8 201.3,1010.3 200.2,1008.4 201.1,1006.0 200.7,1003.9 199.6,1002.0 198.0,999.6 196.1,997.5 198.1,997.2 200.0,996.0 201.9,995.3 204.1,995.5 205.9,994.4 207.9,994.1 210.0,994.0 211.8,992.9 213.6,991.8 215.7,991.5 217.6,990.7 219.8,990.4 221.5,989.1 222.0,987.1 222.7,985.1 223.0,983.0 223.8,981.0 224.0,978.9 224.3,976.8 225.7,975.1 226.3,973.0 226.6,970.9 226.6,968.8 228.7,968.4 230.4,967.2 232.4,966.3 234.4,965.7 236.2,964.7 238.4,964.6 239.6,962.4 240.0,959.9 241.4,957.8 241.8,955.3 243.7,954.0 246.1,953.6 247.9,952.3 249.3,950.2 251.4,949.3 253.6,948.5 255.8,948.3 257.6,947.1 259.8,947.0 261.5,945.6 263.3,944.4 265.5,944.3 265.7,942.0 265.9,939.6 265.2,937.3 265.5,935.0 266.8,932.9 268.9,931.6"/>
<polyline points="189.2,1033.5 189.8,1035.5 190.2,1037.6 191.0,1039.6 190.3,1041.7 190.6,1044.0 190.3,1046.2 189.2,1048.2 190.0,1050.4 190.7,1052.7 191.0,1055.0 190.6,1057.2 190.7,1059.3 190.9,1061.5 191.0,1063.7 192.2,1065.9 193.4,1068.1 195.3,1069.9 196.1,1072.3 198.2,1072.9 200.4,1073.2 202.1,1074.9 204.5,1074.4 206.4,1075.7 208.2,1076.7 210.5,1076.4 212.2,1077.8 214.4,1077.9 216.3,1078.6 218.1,1079.8 220.2,1080.0 222.5,1079.8 224.6,1080.2 226.5,1081.8 228.8,1081.7 230.8,1082.1 232.9,1082.0 234.7,1083.7 236.7,1084.0 238.9,1083.3 240.8,1084.3 243.1,1083.6 245.3,1082.7 247.7,1082.6 250.0,1083.4 251.9,1084.9 254.4,1085.4 256.3,1086.9 256.6,1089.3 258.0,1091.3 258.0,1093.8 260.2,1093.5 262.3,1094.6 264.5,1094.3 266.6,1094.6 268.9,1094.2 271.2,1094.2 273.5,1093.8 275.2,1092.3 276.9,1090.8 278.7,1089.5 279.3,1087.4 281.2,1086.2 282.1,1084.3"/>
<polyline points="221.5,989.1 223.6,988.5 225.8,988.9 227.9,988.7 230.0,988.2 231.3,990.6 233.3,992.5 235.4,992.6 237.4,993.3 239.4,993.7 241.3,994.4 243.1,995.6 245.2,995.9 247.2,996.9 248.6,998.7 250.3,1000.1 252.5,999.7 254.8,999.9 257.0,1000.2 259.2,1000.3 260.9,1001.5 262.8,1002.0 265.0,1002.1 266.6,1003.5 269.3,1002.5 272.1,1002.1 273.1,999.3 274.9,997.0 275.6,994.8 275.8,992.4 276.0,990.1 275.8,987.8 279.5,987.8 281.1,989.3 283.0,990.3 284.7,991.7 286.6,992.6 288.7,993.4 291.5,990.6 293.7,989.8 296.1,989.7 297.7,991.5 299.8,992.4 301.4,994.1 303.5,995.2 305.3,996.6 307.3,997.9 309.2,999.2 310.9,1000.7 312.7,998.4 314.6,999.5 316.6,1000.6 318.6,1001.5 319.9,1003.6 322.0,1004.4 323.6,1005.9 325.3,1007.3 327.3,1008.1 329.3,1009.0 331.6,1010.0 334.0,1010.9 335.2,1012.6 337.3,1013.5 338.2,1015.5 339.9,1016.8 341.3,1018.3 341.3,1020.7 340.4,1022.9 342.1,1024.5 343.2,1026.6 344.1,1028.5 345.0,1030.3 344.3,1032.4 343.1,1034.2 341.9,1036.0 341.0,1038.0 340.3,1040.3 339.8,1042.6 338.5,1044.7 337.6,1046.9 334.9,1049.6 334.8,1052.0 334.0,1054.2 335.2,1055.9 335.8,1057.9 334.2,1059.2 332.2,1059.9 330.3,1060.7 327.9,1060.3 326.1,1058.6 323.8,1057.9 320.1,1058.9 321.0,1061.5 322.9,1063.5 324.3,1065.7 325.4,1068.0 325.1,1070.4 324.8,1072.7 325.4,1075.1"/>
<polyline points="282.1,1084.3 281.2,1081.1"/>
<polyline points="277.8,931.8 277.7,934.0 279.5,935.6 279.1,937.9 280.4,939.7 279.8,942.0 281.7,943.6 281.1,945.9 281.9,947.9 282.2,949.9 283.2,951.8 283.8,954.1 286.0,955.3 286.9,957.4 288.6,958.8 289.8,960.7 291.5,962.0 291.8,964.3 291.5,966.6 293.4,965.4 295.5,964.4 297.9,964.3 299.8,962.9 302.4,962.8 304.8,962.1 307.2,961.1 309.5,961.3 311.4,962.9 313.7,962.9 313.4,965.4 313.4,967.9 312.7,970.3 311.3,971.7 309.9,973.1 308.7,974.9 306.8,975.8 305.4,977.2 307.3,977.9 309.0,979.0 310.7,980.3 312.7,980.7 314.6,981.4 316.5,982.5 318.0,984.3 320.1,985.1 320.4,988.1 322.0,990.6 323.8,991.5 325.4,993.0 327.8,992.8 329.6,993.8 331.2,995.2 331.4,992.9 333.0,991.0 333.0,988.7 335.4,988.5 337.7,988.1 339.9,987.1 342.3,986.9 345.0,986.0 347.8,985.1 349.9,985.4 351.8,984.1 353.8,984.0 355.8,983.7 357.9,984.1 358.6,986.4 359.3,988.7 357.6,990.1 356.6,992.1 355.5,993.9 354.1,995.5 353.2,997.5 351.5,998.9 350.6,1001.3 351.1,1003.9 350.6,1006.3 352.5,1007.2 354.1,1008.6 355.4,1010.4 357.5,1011.0 358.7,1012.9 360.7,1013.7 362.5,1013.2"/>
<polyline points="362.5,1013.2 364.7,1012.2 367.0,1011.6 369.2,1010.8 371.2,1010.1 373.3,1009.5 375.4,1008.9 377.8,1007.1 378.0,1004.9 378.5,1002.8 378.7,1000.0 378.5,997.2 379.1,994.6 380.3,992.3 381.7,990.2 382.8,988.0 385.8,986.2 388.9,984.6 390.8,986.8 392.1,988.8 392.0,991.1 390.6,992.8 388.9,994.1 388.3,997.2 387.6,999.2 386.4,1000.9 388.5,1001.3 390.0,1002.9 392.0,1003.4 394.6,1004.7 396.9,1006.4 400.0,1007.7"/>
<polyline points="400.0,1007.7 398.1,1008.6 396.3,1009.5 395.3,1011.5 395.1,1013.8 394.5,1016.2 395.1,1018.7 392.6,1019.0 390.2,1018.3 387.7,1018.7 386.6,1021.1 385.8,1023.6 385.2,1026.1 386.0,1028.5 385.8,1031.0 386.5,1033.1 386.1,1035.2 385.7,1037.4 386.5,1039.4 386.2,1041.6 386.6,1043.7 386.4,1045.8 389.5,1047.7 391.7,1049.6 394.4,1050.7 396.5,1051.0 398.4,1050.0 400.5,1050.5 402.4,1049.5 402.1,1047.3 403.1,1045.2 405.7,1045.6 408.4,1045.7 411.0,1045.2 410.5,1043.0 411.3,1040.9 411.1,1038.8 411.6,1036.6 410.6,1034.5 411.0,1032.3 410.8,1029.5 410.4,1026.7 408.6,1025.4 406.4,1024.9 404.3,1024.3 402.1,1023.9 399.8,1023.6 398.0,1021.8 395.7,1021.8 395.1,1018.7"/>
<polyline points="360.7,1013.7 364.3,1014.4 366.2,1016.0 367.4,1018.1 368.5,1019.9 370.1,1021.2 371.1,1023.0 372.7,1025.3 373.5,1028.0 374.1,1030.0 374.8,1032.1 375.4,1034.1 376.0,1036.5 376.6,1039.0 379.1,1041.5 381.4,1042.7 383.7,1043.7 385.8,1045.2 387.1,1047.7 387.1,1050.2 386.4,1052.6 384.6,1055.6 385.3,1057.6 386.4,1059.3 386.7,1061.5 386.5,1063.7 385.1,1065.2 383.9,1066.8 382.6,1068.4 381.4,1070.0 381.0,1072.2 379.9,1073.9 378.4,1075.3 376.5,1076.8 375.0,1078.7"/>
<polyline points="400.0,1007.7 402.3,1009.5 404.9,1010.8 407.4,1011.0 409.8,1010.4 412.3,1010.1 412.9,1008.0 413.5,1005.8 414.3,1003.6 415.4,1001.5 417.5,999.7 418.4,997.2 419.7,995.5 421.2,993.8 422.8,992.4 424.6,991.1 425.9,988.5 427.7,986.2 430.7,984.3 432.9,984.4 435.0,984.9 436.7,983.4 438.7,982.5 440.7,981.9 440.0,984.6"/>
<polyline points="440.7,981.9 439.6,984.1 439.5,986.5 438.4,988.4 437.5,990.4 436.4,992.4 436.1,994.6 435.7,997.0 434.5,999.1 433.4,1001.3 433.2,1003.8 433.1,1006.2 433.9,1008.4 434.9,1010.6 434.9,1013.0 434.3,1015.1 432.8,1016.8 433.2,1019.3 432.0,1021.1 432.1,1023.1 431.1,1025.1 431.7,1027.2 431.5,1029.2 431.6,1031.6 431.2,1033.8 430.0,1036.0 430.3,1038.4 430.5,1040.7 430.4,1043.0 430.1,1045.3 430.3,1047.6 430.3,1050.0 431.1,1052.2 431.5,1054.5"/>
<polyline points="474.5,963.7 476.5,965.6 477.5,968.1 479.3,970.1 477.3,971.6 475.6,973.4 473.7,975.0 475.8,975.7 477.2,977.5 479.3,978.2 479.3,980.7 480.1,983.0 479.3,985.4 478.5,987.8 476.4,988.6 474.4,989.7 472.1,990.2 471.7,992.6 470.1,994.5 468.9,996.6 468.8,999.0 468.9,1001.4 471.0,1003.1 472.1,1005.5 472.8,1007.6 474.6,1009.0 475.3,1011.1 474.6,1013.7 473.8,1016.2 472.1,1018.3 470.7,1021.1 469.1,1022.7 468.5,1024.8 467.8,1026.9 468.9,1028.9 470.7,1030.3 470.0,1032.6 470.2,1035.1 469.2,1037.3 468.4,1039.5 466.3,1040.7 464.5,1042.3 461.9,1042.4 460.2,1044.3 458.0,1045.3 456.0,1045.9 453.9,1045.2 452.0,1046.3 449.9,1045.9 447.8,1046.4 446.3,1048.0 444.3,1049.0 442.6,1050.3 440.7,1051.1 438.4,1052.0 436.3,1053.2 434.0,1054.3 431.5,1054.5"/>
<polyline points="431.5,1054.5 431.7,1057.0 433.7,1058.9 434.7,1061.2 434.9,1063.7 435.4,1066.3 437.6,1068.2 438.4,1070.7 439.5,1072.9 439.5,1075.3 441.0,1077.1 442.9,1078.3 444.0,1080.5 446.2,1081.4 447.6,1083.3 449.4,1084.5 451.7,1084.2 453.6,1085.2 455.7,1085.6 458.0,1086.2 460.3,1085.9 462.6,1086.2 464.9,1085.9 467.2,1085.6 468.9,1087.0 469.1,1089.4 470.5,1090.9 471.8,1092.6 474.2,1093.2 476.6,1093.9 478.5,1095.6 481.0,1096.0 483.3,1096.7 485.5,1097.7 487.9,1098.1 490.3,1098.3 492.6,1098.3"/>
<polyline points="439.5,1075.3 437.6,1074.3 435.5,1073.8 433.4,1073.4 431.1,1074.0 429.2,1073.0 426.8,1073.6 424.6,1074.6 422.2,1075.3 423.6,1076.8 425.5,1077.8 426.9,1079.3 428.0,1081.0 426.9,1083.0 426.1,1085.1 424.6,1086.8 423.9,1088.8 423.6,1090.9 422.2,1092.6 419.9,1093.2 417.6,1092.3 415.3,1092.6 413.3,1091.5 411.5,1090.3 409.6,1089.1"/>
<polyline points="403.2,1087.2 405.1,1088.3 407.1,1089.4 409.3,1089.8 411.8,1089.8 414.1,1090.4 415.6,1092.5 418.2,1092.5 420.0,1094.2 422.2,1095.0 424.1,1095.9 425.0,1097.9 427.1,1098.5 428.3,1100.2 427.7,1102.5 427.4,1104.8 427.4,1107.1 425.1,1107.2 423.0,1108.2 420.6,1108.1 418.3,1108.4 416.4,1110.1 414.0,1110.0 411.8,1110.5 410.6,1112.5 410.2,1114.8 410.0,1117.0 409.3,1119.2 410.6,1120.8 410.9,1123.0 413.0,1124.1 413.6,1126.1 415.1,1127.6 416.8,1128.8 418.8,1129.6 419.3,1131.7 419.0,1133.8 419.1,1135.8 418.7,1137.9 418.8,1140.0"/>
<polyline points="418.8,1126.1 420.4,1124.7 422.6,1124.0 424.3,1122.6 425.7,1120.9 427.7,1119.8 430.0,1120.0 432.0,1119.0 433.8,1117.6 436.1,1117.5 438.1,1118.5 440.3,1117.8 442.3,1118.3 444.4,1118.8 446.4,1119.2 448.4,1119.9 450.6,1119.9 452.4,1121.2 454.3,1122.0 456.5,1122.1 458.5,1122.7 460.6,1123.1 462.7,1122.9 464.7,1123.2 466.8,1122.3 468.9,1122.7 470.8,1124.3 472.4,1126.1 474.1,1127.8"/>
<polyline points="473.8,1129.2 475.9,1128.7 477.6,1127.2 479.6,1126.4 481.8,1126.1 483.5,1124.6 485.9,1124.8 487.7,1123.6 490.2,1123.3 492.3,1121.6 495.0,1121.8 497.3,1120.9 499.6,1120.0 502.0,1119.2 504.3,1118.1 507.0,1120.9 509.2,1122.0 511.5,1122.4 513.9,1122.2 515.7,1123.5 517.1,1125.4 518.9,1126.7 520.9,1127.8"/>
<polyline points="497.3,1120.9 497.2,1118.8 496.9,1116.7 497.0,1114.6 496.0,1112.6 495.1,1110.4 494.5,1108.1 494.6,1105.6 494.1,1103.1 492.5,1101.1 491.8,1098.7 490.3,1098.3"/>
<polyline points="474.1,1127.8 474.4,1129.9 474.0,1131.9 473.1,1133.9 473.4,1136.0 473.2,1138.0 472.4,1140.0 472.1,1142.1 471.8,1144.1 471.8,1146.2 471.2,1148.3 470.7,1150.3 470.8,1152.4 472.3,1154.2 472.8,1156.2 473.6,1158.2 473.9,1160.3 474.1,1162.4 474.5,1164.5 473.2,1166.4 474.0,1168.5 472.9,1170.4 474.0,1172.5 473.3,1174.5 472.9,1176.6 473.6,1178.6"/>
<polyline points="420.7,1171.6 420.6,1169.5 420.2,1167.5 420.7,1165.4 419.7,1163.4 419.9,1161.3 419.7,1159.2 417.0,1158.4 414.5,1157.2 415.7,1155.6 417.6,1154.5 418.0,1152.2 419.7,1151.0 419.4,1148.9 418.9,1146.9 418.8,1144.8 419.5,1142.6 418.6,1140.6 416.5,1140.6"/>
<polyline points="383.5,1145.8 384.8,1144.0 385.9,1142.0 386.9,1140.0 388.7,1138.6 390.4,1137.4 391.5,1135.5 393.1,1134.2 394.8,1133.0 396.6,1131.8 398.0,1130.3 400.1,1131.0 402.1,1130.2 404.1,1131.0 406.2,1130.3 406.9,1132.4 409.0,1133.4 410.4,1134.9 411.5,1136.7 412.4,1138.6 414.2,1140.0 416.5,1140.6 418.8,1140.0"/>
<polyline points="420.7,1171.6 422.9,1170.4 425.2,1170.0 427.6,1169.9 430.0,1169.5 432.4,1169.3 434.5,1168.0 436.9,1167.5 439.3,1167.5 441.0,1169.4 441.7,1171.8 443.4,1173.7 443.0,1175.9 441.4,1177.7 440.7,1179.8 440.6,1182.1 439.3,1184.0 441.3,1185.1 443.5,1186.0 445.5,1187.1 448.0,1186.7 450.6,1186.5"/>
<polyline points="363.9,1189.2 365.5,1187.8 367.5,1187.2 369.4,1186.4 371.6,1186.4 373.2,1185.0 375.3,1185.8 377.2,1186.8 379.6,1186.8 381.5,1188.1 383.1,1186.8 384.9,1185.9 386.2,1184.3 388.1,1183.4 389.6,1182.1 390.7,1180.2 391.9,1178.5 393.9,1177.8 395.8,1179.0 398.2,1179.0 400.3,1179.6 402.0,1181.4 404.2,1181.9 406.3,1181.3 408.2,1180.2 410.2,1179.4 411.5,1177.4 413.3,1176.2 415.5,1175.7 416.9,1173.9 419.4,1173.5 420.7,1171.6"/>
<polyline points="346.1,1164.2 348.1,1162.2 350.0,1160.0 351.9,1158.7 353.6,1157.2 354.2,1159.9 355.7,1162.3 358.2,1162.7 360.4,1163.9 362.9,1164.4 361.9,1166.4 361.5,1168.4 362.1,1170.7 361.0,1172.6 360.8,1174.7 362.0,1176.6 363.4,1178.3 364.2,1180.5 366.0,1181.9 365.3,1184.3 364.7,1186.8 363.9,1189.2 365.4,1191.1 367.5,1192.2 369.7,1193.3 371.5,1194.7 373.2,1196.4 375.3,1196.4 377.4,1195.8 379.4,1196.6 381.5,1196.4 381.2,1198.5 381.6,1200.5 381.5,1202.6 379.4,1203.2 377.6,1204.1 376.0,1205.6 374.2,1206.7"/>
<polyline points="353.6,1157.2 355.7,1155.1 357.7,1153.0 359.8,1153.1 361.8,1153.5 363.9,1153.6 365.9,1153.5 368.0,1153.0 370.0,1150.8 372.2,1148.9 374.0,1147.5"/>
<polyline points="439.2,1183.0 441.1,1184.9 443.0,1186.7 444.7,1186.7 447.0,1187.1 449.3,1187.0 451.6,1186.7"/>
<polyline points="494.8,1186.1 494.9,1183.8 496.1,1181.7 495.7,1179.4 497.2,1177.6 498.0,1175.6 498.4,1173.3 500.2,1172.1 501.7,1170.7 502.8,1168.8 502.6,1166.5 503.7,1164.4 503.9,1162.2 503.7,1160.0 504.3,1159.6 505.0,1157.4 506.6,1155.6 507.3,1153.3 508.4,1151.3 509.9,1149.2 511.2,1147.1 513.5,1146.3 515.8,1145.4 518.1,1144.4 520.3,1144.1 522.5,1143.6 524.3,1142.1 526.4,1141.6"/>
<polyline points="526.4,1141.6 527.2,1143.8 529.0,1145.5 529.3,1147.9 530.5,1149.9 532.7,1150.8 535.1,1151.3 537.5,1151.3 539.3,1152.3 541.1,1153.3 543.0,1154.1 545.8,1153.9 548.5,1154.1"/>
<polyline points="526.4,1141.6 526.1,1139.3 525.4,1137.0 525.0,1134.7 524.2,1132.8 522.4,1131.6 522.2,1129.4 520.9,1127.8 522.8,1125.6 525.0,1123.6 526.5,1122.0 527.4,1119.9 529.0,1118.3 530.5,1116.7 531.6,1114.5 533.3,1112.6 534.5,1110.6 536.4,1109.1 537.5,1107.0 538.5,1104.9 539.5,1102.9"/>
<polyline points="539.5,1102.9 541.9,1103.2 544.0,1104.1 546.4,1104.5 548.5,1105.6 550.7,1104.6 553.1,1103.9 555.4,1102.9 557.6,1100.9 559.6,1098.7 562.0,1097.0"/>
<polyline points="539.5,1102.9 537.6,1102.3 535.9,1101.0 533.6,1101.4 531.9,1100.1 530.6,1098.2 530.4,1095.7 529.0,1093.8 527.8,1091.8 525.0,1089.0 525.5,1086.9 526.7,1085.2 527.8,1083.5 530.7,1083.3 533.3,1082.1 534.7,1079.4 532.6,1078.4 530.5,1077.3 529.2,1079.1 527.1,1079.9 530.0,1080.5 532.9,1079.9 532.6,1082.4 531.2,1084.4 530.6,1086.8 528.7,1089.0 527.1,1091.4 528.3,1093.7 528.9,1096.3 530.6,1098.3"/>
<polyline points="502.9,1054.5 503.4,1056.8 503.9,1059.1 504.3,1061.3 504.1,1063.7 502.2,1062.9 500.1,1063.0 498.1,1062.6 496.0,1062.6 494.8,1064.5 493.9,1066.5 492.6,1068.4 490.9,1069.9 489.6,1071.8 487.9,1073.3 486.8,1075.3 486.0,1077.5 485.6,1079.9 487.1,1081.4 489.1,1082.1 491.1,1082.9 492.6,1084.5 493.9,1086.3 494.0,1088.7 495.6,1090.4 496.0,1092.6 494.7,1094.4 493.6,1096.3 492.6,1098.3"/>
<polyline points="502.9,1054.5 504.5,1056.1 506.8,1056.9 508.4,1058.6 509.9,1060.3 511.9,1061.1 513.4,1062.9 515.3,1064.0 517.0,1065.4 519.1,1066.1 520.2,1067.9 520.4,1070.1 521.5,1071.9 521.4,1074.1 523.1,1075.3 524.2,1077.0 526.1,1078.0 527.1,1079.9"/>
<polyline points="520.9,1068.3 522.4,1070.4 522.4,1073.0 523.6,1075.2 526.0,1075.4 528.2,1076.5 530.5,1077.3"/>
<polyline points="518.4,1001.7 516.2,1002.9 513.8,1003.9 511.5,1005.1 509.4,1005.6 508.0,1007.4 506.0,1007.9 504.4,1010.0 502.7,1012.0 500.4,1013.4 499.4,1015.5 498.2,1017.3 496.7,1018.9 494.9,1020.3 493.1,1022.2 490.7,1023.6 489.4,1025.9 489.1,1028.2 489.6,1030.5 489.4,1032.8 488.6,1034.9 487.3,1036.8 486.8,1039.1 486.2,1041.3 484.3,1042.9 483.8,1045.2 484.6,1047.1 486.2,1048.7 486.6,1050.8 489.1,1051.1 491.4,1052.1 493.5,1053.5 495.7,1053.8 497.6,1052.3 499.8,1052.7 501.8,1052.2 503.9,1053.7 506.6,1053.4 508.7,1054.9 511.0,1054.3 513.3,1053.9 515.6,1053.5 517.7,1055.0 520.4,1055.0 522.6,1056.3 524.2,1054.2 526.0,1052.4 528.1,1050.8 530.3,1049.7 532.7,1050.1 535.0,1049.4"/>
<polyline points="470.7,1030.3 473.1,1030.3 475.4,1030.9 477.7,1030.6 480.0,1031.5 482.4,1031.6 484.8,1031.6 487.1,1031.8 489.4,1032.8"/>
<polyline points="490.6,976.6 491.9,974.9 492.1,972.7 493.1,970.8 494.3,969.0 494.6,966.9 495.9,965.2 497.8,964.1 499.5,962.8 501.0,961.3 504.2,959.7 505.8,962.1 508.2,963.7 510.4,963.6 512.4,964.2 514.3,965.3 513.3,967.4 511.8,969.3 513.0,971.7 510.8,972.6 509.0,974.2 506.6,975.0 506.5,977.9 507.4,980.6 505.2,982.3 502.6,983.0 500.5,982.2 498.3,982.4 496.2,982.2 494.1,980.4 491.4,979.8 490.6,976.6"/>
<polyline points="513.0,971.7 515.2,973.2 517.1,975.0 515.5,978.2 516.9,979.7 518.2,981.4 519.5,983.0 519.2,985.4 518.4,987.8 517.9,990.2 516.8,992.7 515.5,995.0 514.2,996.7 512.2,997.4 510.0,996.4 507.6,995.9 505.8,994.2 505.8,991.0 505.4,988.6 505.9,986.2 507.0,983.9 506.6,981.4 506.6,979.3 506.7,977.1 506.6,975.0"/>
<polyline points="440.0,984.6 442.0,982.6 444.0,980.6 446.8,980.1 449.6,980.6 450.8,978.8 451.3,976.6 453.0,975.1 453.1,972.6 454.4,970.9 456.8,971.7 459.3,971.7 461.1,970.1 463.3,969.3 465.2,970.3 467.3,970.1 469.7,969.5 471.3,967.5 473.7,966.9 474.5,963.7"/>
<polyline points="474.5,963.7 473.1,962.1 472.8,960.0 472.1,958.1 472.0,955.2 472.9,952.5 474.8,950.7 476.1,948.5 477.2,946.6 477.7,944.4 479.3,942.8 481.3,942.2 483.3,942.8 483.3,945.3 484.4,947.6 484.2,950.1 486.1,950.8 488.2,950.9 490.3,949.9 492.2,948.5 494.5,947.7 496.2,946.1 498.6,945.4 501.0,944.4 503.4,944.5 505.8,944.4 506.2,942.2 506.5,940.0 507.4,938.0 509.6,936.3 512.2,935.6 515.0,935.1 517.9,934.8 519.2,936.3 520.3,938.0 520.5,940.2 521.7,942.2 521.9,944.4 522.4,946.4 522.7,948.5 522.9,950.6 524.1,952.3 525.1,954.1 527.5,954.7 529.9,955.2 532.2,955.9 534.7,955.7"/>
<polyline points="534.7,955.7 533.4,957.8 532.3,960.1 530.7,962.1 532.4,963.8 534.7,965.0 536.3,966.9 537.9,968.1 539.5,969.3 539.7,971.7 541.7,973.4 542.0,975.8"/>
<polyline points="534.7,955.7 535.2,953.2 536.3,950.9 536.1,948.8 535.5,946.7 536.3,944.6 535.3,942.5 535.5,940.4 537.9,938.8 539.9,940.5 542.0,942.0 542.2,944.6 543.7,946.8 544.4,949.3 546.5,948.1 547.8,946.3 549.2,944.4 551.4,942.9 553.6,941.3 555.6,939.6 557.8,938.6 559.8,937.3 562.0,936.4 564.8,935.4 566.8,933.2 569.2,932.3 571.7,931.6 573.7,932.5 575.8,932.5 578.0,931.5 580.0,932.4 581.6,930.8 583.6,929.6 585.4,928.3 586.3,925.6 586.3,922.7"/>
<polyline points="530.0,961.5 531.7,963.4 534.5,963.7 536.1,965.9 538.3,967.0 539.2,969.1 539.6,971.4 541.2,973.2 542.0,975.3"/>
<polyline points="560.6,746.6 563.0,748.2 562.2,750.2 561.2,752.1 561.1,754.4 560.1,756.3 559.2,758.3 559.1,760.5 560.8,762.1 562.4,763.8 564.1,765.4 566.1,766.7 568.3,765.5 569.9,763.6 572.1,764.7 573.8,766.4 575.3,768.3 575.1,770.5 575.9,772.4 577.1,774.3 576.9,776.5 578.2,778.3 578.4,780.4 578.8,782.5 579.2,784.5 581.3,784.2 583.5,784.2 585.6,784.8 587.7,785.1 589.8,784.7 591.9,785.3 594.0,785.9 596.2,785.3 597.8,783.4 599.9,782.3 601.7,780.8 604.0,779.9 605.2,781.7 606.9,783.1 608.3,784.8 610.0,786.3 610.8,788.4 612.3,790.1 614.0,791.5 613.0,793.4 611.4,795.0 611.0,797.3 609.8,799.2 607.9,800.6 607.7,803.0 606.3,804.7 606.6,806.9 606.6,809.0 605.5,811.1 605.1,813.2 606.0,815.4 605.2,817.5 605.1,819.6 604.8,821.7 603.1,823.4 601.4,825.1 599.3,826.3 599.0,828.4 598.8,830.5 597.3,832.3 597.8,834.5 596.9,836.5 596.3,838.5 595.8,840.5 595.5,842.6 594.7,839.9 593.9,837.2 592.3,838.6 590.3,839.6 589.4,841.8 587.7,843.2 586.0,844.6 584.0,845.5 582.7,847.3 581.1,848.8 579.8,850.5 578.2,851.9 576.1,852.8 574.9,854.7 573.0,855.8 574.6,857.8 576.4,859.7 577.7,862.0 578.5,864.0 579.1,866.0 579.2,868.1 581.4,868.2 583.4,867.3 585.4,866.6 583.6,868.1 582.0,870.0 580.0,871.2 580.8,875.1"/>
<polyline points="574.3,860.0 575.0,862.2 577.0,863.4 577.7,865.6 578.9,867.4 581.6,866.4 584.4,865.5 585.4,867.4 582.4,867.7 579.8,869.2 578.9,872.0 580.7,875.2 582.8,874.9 584.8,874.9 586.9,875.0 589.0,874.8 589.6,876.8 589.4,879.1 589.9,881.1 590.9,883.1 592.0,884.9 594.1,885.9 594.5,888.3 596.4,889.5 598.6,889.3 600.7,889.0 602.9,888.7 605.0,888.3 607.2,888.6 609.3,887.7 611.0,889.8 612.1,892.3 614.2,891.8 616.2,893.0 618.3,892.0 620.4,892.3 622.9,893.9 625.0,896.0 625.5,898.7 625.9,901.5 628.5,903.0 631.5,903.4 632.6,905.1 634.0,906.7 634.6,908.7 635.2,910.7 636.4,908.6 637.8,906.6 639.8,905.2 642.5,907.0 642.8,909.1 643.8,910.8 645.4,912.4 646.0,914.3 645.9,916.6 647.0,918.3 648.1,920.0 649.4,918.1 650.8,916.3 652.9,915.5 655.3,915.1 657.0,913.2 659.2,912.6 661.5,912.8 663.8,912.6 665.1,914.5 665.0,916.9 665.6,919.0 668.0,919.2 670.3,919.9 672.5,920.6 674.8,921.3"/>
<polyline points="563.2,884.0 563.4,881.5 564.6,879.4 566.7,880.9 569.4,880.7 571.5,882.1 573.2,883.5 575.2,884.4 576.3,882.6 576.7,880.6 577.0,878.5 578.7,876.6 580.7,875.2"/>
<polyline points="563.2,884.0 564.2,886.5 566.2,888.3 567.8,890.4 567.8,892.5 567.8,894.5 567.4,896.6 567.8,898.7 567.8,901.2 569.3,903.3 570.3,905.6 570.6,908.0 572.8,906.9 575.0,905.6 577.6,905.4 579.8,904.3 580.1,906.5 582.0,907.8 582.3,910.0 583.5,911.7 584.5,914.0 584.2,916.7 585.4,919.0 582.6,920.4 584.9,920.9 587.2,921.3 589.1,922.4 591.3,923.3 593.0,924.7 594.6,926.4 594.5,928.8 595.5,931.0 596.7,929.2 598.7,928.0 600.1,926.4 600.9,928.7 602.0,931.0 602.6,933.4 603.8,935.6 605.2,937.2 605.4,939.4 607.1,940.9 607.5,943.0 606.9,945.0 605.6,946.7 606.3,948.7 607.9,950.2 608.4,952.3 609.8,953.9 610.3,956.0 611.2,957.8 610.3,961.5"/>
</g>
<g fill="#CA7A5C" stroke="#b06d52" stroke-width="0.5">
<polygon points="281.2,1064.7 283.5,1063.0 285.6,1061.2 287.6,1061.7 289.6,1062.1 291.6,1062.1 292.1,1064.5 293.1,1066.8 294.2,1069.0 295.0,1071.5 296.9,1073.4 297.7,1075.9 299.4,1077.0 300.9,1078.4 302.8,1079.3 304.6,1080.3 307.4,1079.3 309.8,1077.7 311.8,1079.6 313.2,1082.0 315.5,1081.7 317.8,1081.2 320.2,1081.1 322.0,1079.1 323.7,1077.1 325.4,1075.1 327.9,1074.2 330.5,1074.2 331.2,1072.0 332.3,1069.9 333.9,1068.6 336.0,1067.9 337.5,1066.4 338.1,1064.3 338.3,1062.1 340.2,1061.0 342.5,1060.6 344.4,1059.5 346.3,1061.0 347.8,1063.0 349.6,1066.4 351.9,1067.1 354.3,1067.3 356.5,1068.2 360.0,1069.9 361.0,1072.4 360.8,1075.2 361.7,1077.7 364.4,1078.8 366.9,1080.3 369.0,1079.6 371.3,1079.8 373.4,1079.3 375.5,1078.5 377.7,1079.2 379.7,1080.6 382.0,1081.2 384.2,1082.0 386.2,1082.5 388.4,1082.4 390.3,1083.4 392.4,1083.5 394.5,1083.7 396.5,1085.0 398.7,1085.8 401.1,1086.2 403.2,1087.2 405.3,1088.0 407.4,1088.7 409.3,1089.8 409.2,1092.5 408.4,1095.0 407.6,1097.0 406.2,1098.6 404.9,1100.2 404.0,1102.3 403.6,1104.7 402.2,1106.6 401.5,1108.8 399.9,1110.6 398.1,1112.4 396.0,1113.8 394.5,1115.7 391.1,1117.5 389.3,1115.8 387.6,1114.0 385.3,1114.2 383.0,1114.0 380.7,1114.0 378.8,1116.0 377.2,1118.3 375.8,1120.7 373.8,1122.7 374.7,1126.1 375.8,1128.1 377.9,1129.3 379.0,1131.3 380.6,1133.2 382.2,1135.0 384.2,1136.5 382.1,1138.1 379.4,1138.6 377.2,1140.0 379.0,1142.1 380.7,1144.3 384.2,1146.0 381.8,1146.8 379.7,1148.1 377.2,1148.6 374.9,1147.9 372.8,1146.7 370.9,1145.0 368.6,1144.3 366.0,1145.0 363.4,1145.1 362.3,1142.8 360.8,1140.8 360.0,1137.4 357.3,1137.4 354.8,1138.2 353.5,1140.7 353.0,1143.4 350.8,1144.7 348.5,1145.8 346.1,1146.9 345.5,1149.2 344.7,1151.4 344.4,1153.8 345.1,1155.8 344.9,1158.0 345.2,1160.1 345.4,1162.2 346.1,1164.2 344.7,1166.2 342.7,1167.6 340.4,1167.9 338.5,1169.3 336.2,1169.7 334.0,1170.2 331.4,1168.8 328.8,1167.6 328.1,1165.4 326.6,1163.5 326.0,1161.2 324.7,1159.3 323.6,1157.2 322.2,1155.6 320.9,1153.8 319.5,1152.2 318.4,1150.3 316.4,1149.2 314.7,1147.7 313.2,1146.0 312.5,1144.0 311.9,1141.9 310.4,1140.3 309.8,1138.2 307.0,1137.3 304.6,1135.6 302.0,1138.2 302.0,1136.0 301.2,1133.9 300.6,1131.8 300.3,1129.6 299.8,1127.6 299.9,1125.6 299.8,1123.6 299.2,1121.7 298.9,1119.7 298.4,1117.7 298.5,1115.7 298.7,1113.7 297.8,1111.7 298.1,1109.7 298.3,1107.6 297.5,1105.6 297.7,1103.6 296.6,1101.8 295.1,1100.2 294.6,1098.0 293.5,1096.0 292.8,1093.9 291.3,1092.0 290.8,1089.8 289.3,1087.8 287.6,1085.9 286.4,1083.7 283.9,1082.1 281.2,1081.1 280.7,1078.8 280.6,1076.5 280.4,1074.2 281.7,1071.7 282.1,1069.0 282.0,1066.8"/>
<polygon points="452.4,1182.5 455.9,1182.1 457.5,1183.6 459.5,1184.7 460.7,1182.6 461.3,1180.3 463.2,1179.2 465.2,1178.1 467.2,1178.3 469.2,1179.0 471.4,1178.4 473.6,1178.6 477.2,1179.9 480.7,1179.4 482.5,1181.2 481.0,1182.9 479.8,1184.7 478.5,1187.0 477.2,1189.2 479.8,1189.6 482.5,1189.6 485.1,1188.8 487.8,1188.3 490.0,1188.5 492.2,1188.3 494.8,1186.1 497.5,1186.1 500.1,1186.5 502.6,1187.9 505.4,1188.7 506.1,1190.8 507.2,1192.7 507.7,1194.9 508.1,1197.1 508.5,1199.3 509.0,1201.5 507.1,1203.4 505.4,1205.5 504.8,1207.6 503.7,1209.5 501.0,1210.3 498.4,1211.2 496.3,1211.5 494.3,1212.6 492.2,1213.0 489.9,1213.2 487.8,1213.9 485.2,1213.5 482.5,1213.5 479.8,1215.7 477.6,1215.4 475.4,1215.7 471.9,1216.1 470.1,1213.9 469.2,1210.4 467.9,1209.5 467.9,1212.1 467.9,1214.8 467.4,1217.4 465.7,1219.0 464.3,1220.8 463.0,1222.7 460.8,1224.1 458.6,1225.4 456.3,1226.1 453.9,1226.3 451.5,1226.3 448.8,1226.8 446.2,1227.6 444.2,1228.2 442.0,1228.1 440.0,1228.9 437.3,1229.7 434.7,1230.7 432.1,1233.3 431.4,1235.2 430.3,1236.9 433.0,1239.5 432.5,1242.2 429.4,1243.5 426.3,1243.5 425.6,1241.4 424.6,1239.5 424.0,1237.3 423.7,1235.1 424.5,1233.0 424.6,1230.7 425.0,1227.2 427.7,1224.5 429.9,1223.0 431.6,1221.0 433.2,1219.5 435.0,1218.2 436.5,1216.6 438.7,1215.2 440.8,1213.8 442.7,1212.1 443.4,1210.1 442.9,1208.0 443.6,1206.0 444.3,1203.7 445.3,1201.5 447.2,1199.4 448.9,1197.1 449.3,1195.0 450.1,1193.0 450.6,1190.9 450.2,1188.7 450.6,1186.5 451.8,1184.6"/>
</g>

<rect x="624.4" y="1089.4" width="55.6" height="79.9" fill="#fff" stroke="#cdcdcd" stroke-width="1"/>
<g fill="#e0e0e0" stroke="none">
<path d="M624.9,1120.5 C628,1121.5 631,1124 632.3,1128 C633,1132 632.2,1137 629.5,1140 C628,1141.4 626.2,1141.6 624.9,1141.5 Z"/>
<path d="M639.2,1168.8 C642,1164 646,1160.5 650,1159 C653,1158 655.5,1155.5 658,1153.8 C660,1156 662,1158.5 665.5,1159.5 C663.5,1161.5 662,1164 663,1168.8 Z"/>
<path d="M671.2,1099.5 C671,1096.5 672,1093.5 674,1092.6 C675.2,1093.2 674.8,1096 674,1098.5 C673.3,1100 672.2,1100.8 671.2,1099.5 Z"/>
<path d="M673,1117 C673.2,1115 675,1114.5 676.2,1115.8 C677,1118 676.5,1120.5 675.5,1122 C676.5,1124.5 677.5,1127 676.8,1129.5 C675.5,1130.5 674.3,1128.5 673.8,1126 C673.2,1123 672.8,1120 673,1117 Z"/>
</g>
<g fill="none" stroke="#c9c9c9" stroke-width="0.7" stroke-linejoin="round">
<polyline points="624.4,1104.1 629.6,1103.7 633.3,1104.8 635.5,1106.3 636.9,1104.1 639.8,1103.4 644.2,1102.6 647.1,1100.5 651.5,1100.1 655.9,1099 658.8,1096.8 662.5,1093.9 666.1,1091 667.6,1089.5"/>
<polyline points="633.3,1104.8 637,1101 639.1,1098.3 640.5,1095 641.3,1092.4 639.1,1091"/>
<polyline points="649.3,1093.5 652,1093 655.1,1092.8 658.8,1096.8"/>
<path d="M630.5,1112.8 C630.5,1110.5 632.5,1109.4 635,1109.5 C637.5,1109.7 638.2,1111.5 637.3,1114 C636.2,1116 634,1116.6 632.2,1116 C631,1115.4 630.5,1114.2 630.5,1112.8 Z"/>
<line x1="642.5" y1="1124" x2="643.3" y2="1127"/>
<line x1="634.8" y1="1137" x2="635.3" y2="1139.5"/>
<line x1="628.2" y1="1153" x2="628.4" y2="1156"/>
<line x1="652.8" y1="1150" x2="655" y2="1152.3"/>
<line x1="659" y1="1147" x2="665.5" y2="1141"/>
<line x1="665.5" y1="1137.5" x2="667.5" y2="1134"/>
<line x1="667" y1="1115" x2="668.5" y2="1113"/>
<line x1="672.5" y1="1105" x2="674.5" y2="1103.5"/>
<line x1="677.2" y1="1094.5" x2="677.5" y2="1097.5"/>
<polyline points="677,1131 678.5,1134 677.5,1138 679,1142 677.5,1147 678.8,1151"/>
</g>

<text transform="translate(40.7,772.8) scale(1.15,1)" text-anchor="middle" font-family="Liberation Sans, sans-serif" font-size="22.5">N</text>
<polygon points="40.1,778.3 23.8,830.2 40.1,810.9" fill="#000"/>
<polygon points="40.1,778.3 56.7,830.2 40.1,810.9" fill="#fff" stroke="#000" stroke-width="1.5" stroke-linejoin="miter"/>
<g font-family="Liberation Serif, serif" font-style="italic" font-weight="bold" font-size="28.8">
<text x="278.5" y="1044.7">Sichuan (SC)</text>
<text x="448.7" y="1251.7" font-size="28.4">Guangdong (GD)</text>
</g>
<text transform="translate(-3.8,713) scale(0.967,1)" font-family="Liberation Sans, sans-serif" font-weight="bold" font-size="55.5">b</text>
<rect x="937.5" y="755.6" width="709.9" height="390.4" fill="none" stroke="#A0A0A0" stroke-width="1.1"/>
<g stroke="#A0A0A0" stroke-width="1.1">
<line x1="937.5" y1="1080.9" x2="944.0" y2="1080.9"/>
<line x1="1640.5" y1="1080.9" x2="1647.4" y2="1080.9"/>
<line x1="937.5" y1="1015.9" x2="944.0" y2="1015.9"/>
<line x1="1640.5" y1="1015.9" x2="1647.4" y2="1015.9"/>
<line x1="937.5" y1="950.8" x2="944.0" y2="950.8"/>
<line x1="1640.5" y1="950.8" x2="1647.4" y2="950.8"/>
<line x1="937.5" y1="885.7" x2="944.0" y2="885.7"/>
<line x1="1640.5" y1="885.7" x2="1647.4" y2="885.7"/>
<line x1="937.5" y1="820.7" x2="944.0" y2="820.7"/>
<line x1="1640.5" y1="820.7" x2="1647.4" y2="820.7"/>
</g>
<rect x="946.8" y="998.9" width="32.5" height="147.1" fill="url(#pSK)" stroke="#000" stroke-width="1.1"/>
<rect x="946.8" y="825.4" width="32.5" height="173.5" fill="url(#pOR)" stroke="#000" stroke-width="1.1"/>
<rect x="946.8" y="786.4" width="32.5" height="39.0" fill="url(#pNSP)" stroke="#000" stroke-width="1.1"/>
<rect x="997.6" y="1047.1" width="32.5" height="98.9" fill="url(#pSK)" stroke="#000" stroke-width="1.1"/>
<rect x="997.6" y="1025.4" width="32.5" height="21.7" fill="url(#pOR)" stroke="#000" stroke-width="1.1"/>
<rect x="997.6" y="1021.9" width="32.5" height="3.5" fill="url(#pNSP)" stroke="#000" stroke-width="1.1"/>
<rect x="1098.9" y="989.4" width="32.5" height="156.6" fill="url(#pSK)" stroke="#000" stroke-width="1.1"/>
<rect x="1098.9" y="930.4" width="32.5" height="59.0" fill="url(#pOR)" stroke="#000" stroke-width="1.1"/>
<rect x="1098.9" y="822.0" width="32.5" height="108.4" fill="url(#pNSP)" stroke="#000" stroke-width="1.1"/>
<rect x="1149.6" y="1006.8" width="32.5" height="139.2" fill="url(#pSK)" stroke="#000" stroke-width="1.1"/>
<rect x="1149.6" y="974.7" width="32.5" height="32.1" fill="url(#pOR)" stroke="#000" stroke-width="1.1"/>
<rect x="1149.6" y="964.2" width="32.5" height="10.4" fill="url(#pNSP)" stroke="#000" stroke-width="1.1"/>
<rect x="1251.0" y="1142.5" width="32.5" height="3.5" fill="url(#pSK)" stroke="#000" stroke-width="1.1"/>
<rect x="1251.0" y="988.5" width="32.5" height="154.0" fill="url(#pNSP)" stroke="#000" stroke-width="1.1"/>
<rect x="1301.6" y="947.8" width="32.5" height="198.2" fill="url(#pSK)" stroke="#000" stroke-width="1.1"/>
<rect x="1301.6" y="898.3" width="32.5" height="49.5" fill="url(#pOR)" stroke="#000" stroke-width="1.1"/>
<rect x="1301.6" y="812.0" width="32.5" height="86.3" fill="url(#pNSP)" stroke="#000" stroke-width="1.1"/>
<rect x="1403.1" y="957.3" width="32.5" height="188.7" fill="url(#pNSP)" stroke="#000" stroke-width="1.1"/>
<rect x="1453.6" y="1065.3" width="32.5" height="80.7" fill="url(#pSK)" stroke="#000" stroke-width="1.1"/>
<rect x="1453.6" y="1043.4" width="32.5" height="21.9" fill="url(#pOR)" stroke="#000" stroke-width="1.1"/>
<rect x="1453.6" y="888.8" width="32.5" height="154.6" fill="url(#pNSP)" stroke="#000" stroke-width="1.1"/>
<rect x="1555.2" y="941.3" width="32.5" height="204.7" fill="url(#pNSP)" stroke="#000" stroke-width="1.1"/>
<rect x="1605.6" y="969.5" width="32.5" height="176.5" fill="url(#pNSP)" stroke="#000" stroke-width="1.1"/>
<line x1="937.5" y1="1146.0" x2="1647.4" y2="1146.0" stroke="#A0A0A0" stroke-width="1.3"/>
<polygon points="963.0,970.0 972.8,989.5 953.3,989.5" fill="#C00000"/>
<circle cx="1013.9" cy="1074.2" r="9.9" fill="#000"/>
<polygon points="1115.1,927.8 1124.9,947.2 1105.4,947.2" fill="#C00000"/>
<circle cx="1165.8" cy="1034.8" r="9.9" fill="#000"/>
<polygon points="1267.2,886.2 1277.0,905.8 1257.5,905.8" fill="#C00000"/>
<circle cx="1317.8" cy="865.3" r="9.9" fill="#000"/>
<polygon points="1419.3,816.2 1429.1,835.8 1409.6,835.8" fill="#C00000"/>
<circle cx="1469.8" cy="829.5" r="9.9" fill="#000"/>
<polygon points="1571.4,790.6 1581.2,810.1 1561.7,810.1" fill="#C00000"/>
<circle cx="1621.8" cy="848.6" r="9.9" fill="#000"/>
<g font-family="Liberation Serif, serif" font-size="23">
<text x="918" y="1153.6" text-anchor="end">0</text>
<text x="1667.5" y="1153.6">0</text>
<text x="918" y="1088.5" text-anchor="end">15</text>
<text x="1667.5" y="1088.5">30</text>
<text x="918" y="1023.5" text-anchor="end">30</text>
<text x="1667.5" y="1023.5">60</text>
<text x="918" y="958.4" text-anchor="end">45</text>
<text x="1667.5" y="958.4">90</text>
<text x="918" y="893.3" text-anchor="end">60</text>
<text x="1667.5" y="893.3">120</text>
<text x="918" y="828.3" text-anchor="end">75</text>
<text x="1667.5" y="828.3">150</text>
<text x="918" y="763.2" text-anchor="end">90</text>
<text x="1667.5" y="763.2">180</text>
</g>
<text transform="translate(844.2,969.5) rotate(-90)" text-anchor="middle" font-family="Liberation Serif, serif" font-size="22.3" xml:space="preserve">Particulate Matter Formation  (<tspan font-style="italic">Million kg PM<tspan font-size="14.5" dy="5">2.5</tspan><tspan dy="-5">)</tspan></tspan></text>
<text transform="translate(869.5,968.5) rotate(-90)" text-anchor="middle" font-family="Liberation Serif, serif" font-size="22.3">(PMF)</text>
<text transform="translate(1738.7,948.9) rotate(-90)" text-anchor="middle" font-family="Liberation Serif, serif" font-size="22.85">Cement Production (<tspan font-style="italic">Million tons</tspan>)</text>
<g font-family="Liberation Serif, serif" font-size="27" font-style="italic" text-anchor="middle">
<text x="964.0" y="1178">GD</text>
<text x="1013.4" y="1178">SC</text>
<text x="1116.1" y="1178">GD</text>
<text x="1165.3" y="1178">SC</text>
<text x="1268.2" y="1178">GD</text>
<text x="1317.3" y="1178">SC</text>
<text x="1420.3" y="1178">GD</text>
<text x="1469.3" y="1178">SC</text>
<text x="1572.4" y="1178">GD</text>
<text x="1621.3" y="1178">SC</text>
</g>
<g font-family="Liberation Serif, serif" font-size="27.5" font-weight="bold" text-anchor="middle">
<text x="986.5" y="1211.5">2002</text>
<text x="1138.5" y="1211.5">2006</text>
<text x="1290.5" y="1211.5">2010</text>
<text x="1442.6" y="1211.5">2014</text>
<text x="1594.6" y="1211.5">2018</text>
</g>
<g stroke="#8c8c8c" stroke-width="1.2">
<rect x="877.7" y="1239.5" width="29" height="17.8" fill="url(#pSKl)"/>
<rect x="1121.1" y="1239.5" width="28.5" height="17.8" fill="url(#pORl)"/>
<rect x="1435.7" y="1239.5" width="29" height="17.8" fill="url(#pNSP)"/>
</g>
<g font-family="Liberation Serif, serif" font-size="20.7">
<text x="918.3" y="1255.2">PMF from Shaft kiln</text>
<text x="1162.5" y="1255.2">PMF from Other rotary kilns</text>
<text x="1473" y="1255.2">PMF from NSP rotary kiln</text>
<text x="965.8" y="1295.1">Cement production in GD: Guangdong</text>
<text x="1359.6" y="1295.1">Cement production in SC: Sichuan</text>
</g>
<polygon points="943.2,1276.7 953.3,1296.9 933.1,1296.9" fill="#C00000"/>
<circle cx="1339" cy="1289.8" r="10" fill="#000"/>
<text transform="translate(824.6,720) scale(0.83,1)" font-family="Liberation Sans, sans-serif" font-weight="bold" font-size="57.4">c</text>
</svg>
</body></html>
